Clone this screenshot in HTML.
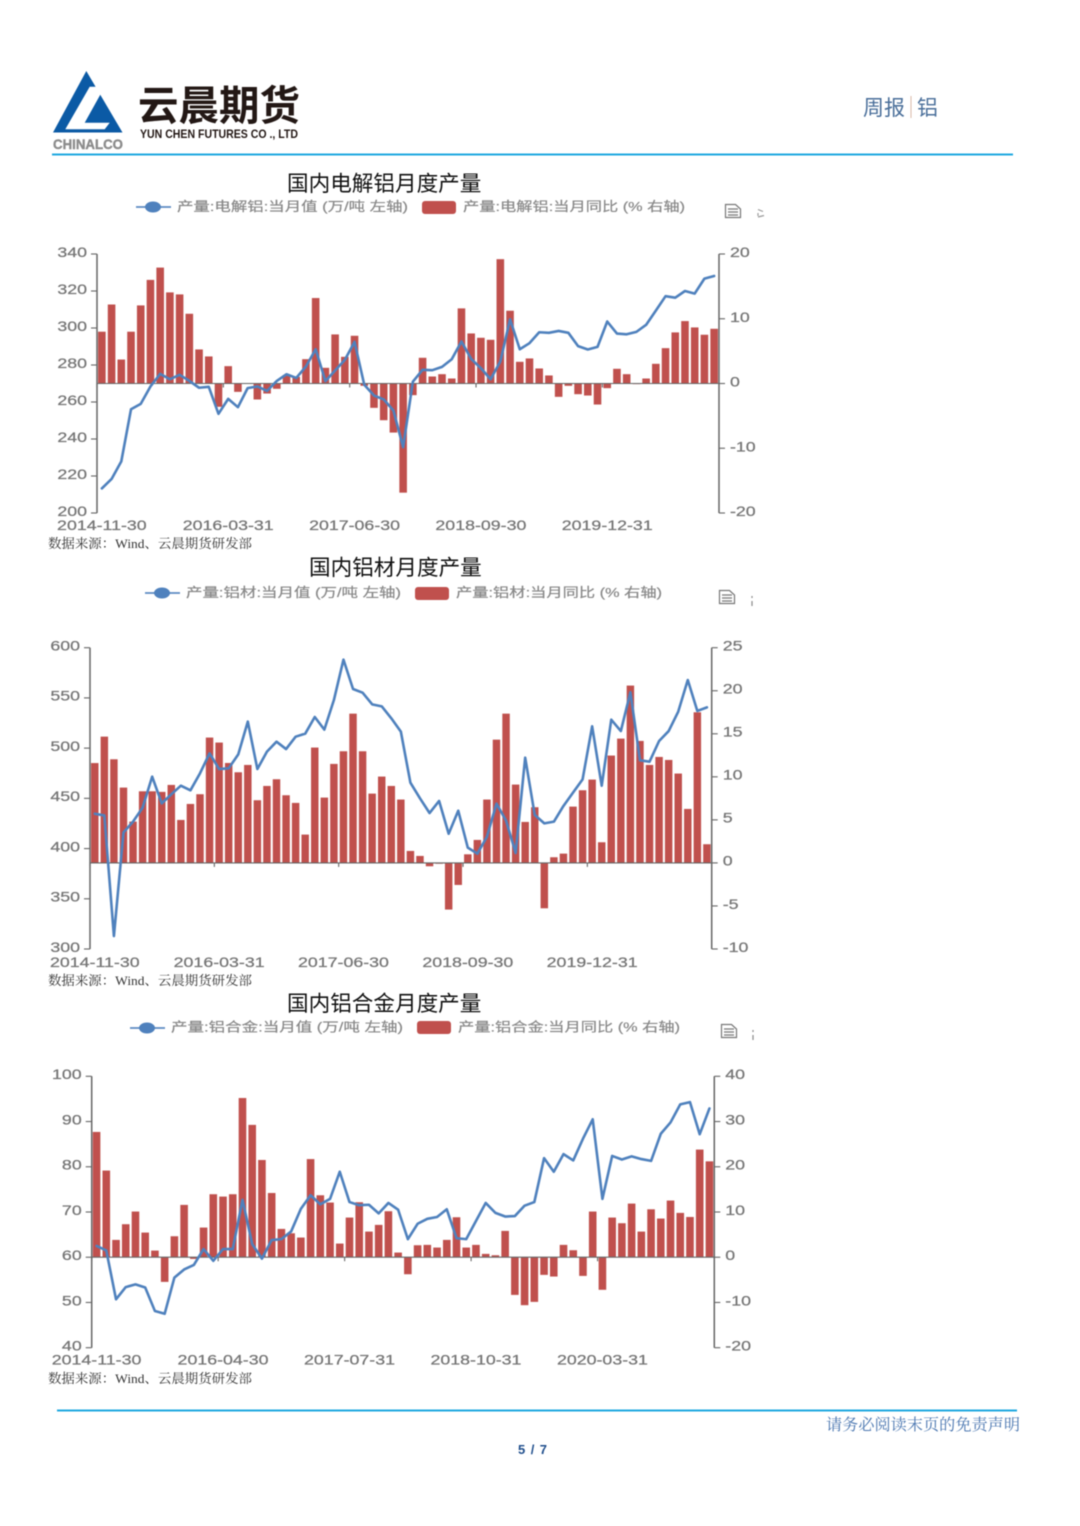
<!DOCTYPE html>
<html lang="zh">
<head>
<meta charset="utf-8">
<title>云晨期货周报 铝</title>
<style>
html,body{margin:0;padding:0;background:#fff;}
body{width:1080px;height:1526px;overflow:hidden;}
svg{display:block;}
.cjk{font-family:"Liberation Sans","Noto Sans CJK SC",sans-serif;}
.serif{font-family:"Liberation Serif","Noto Serif CJK SC",serif;}
.soft{filter:blur(.4px);}
</style>
</head>
<body>
<svg id="page" xmlns="http://www.w3.org/2000/svg" width="1080" height="1526" viewBox="0 0 1080 1526">
  <g class="soft">
    <g>
      <polygon points="86.3,71 122.5,132.5 53,132.5" fill="#0b5aa5"/>
      <polygon points="89.7,86.7 104.7,86.7 84.7,122.7 109.7,122.7 104.7,129.3 65.3,129.3" fill="#fff"/>
      <text x="53" y="149" class="cjk" font-size="13.5" font-weight="700" fill="#8c8c8c" stroke="#8c8c8c" stroke-width=".4" textLength="70" lengthAdjust="spacingAndGlyphs">CHINALCO</text>
    </g>
    <text x="138" y="120" class="cjk" font-size="41" font-weight="700" fill="#231815" textLength="162" lengthAdjust="spacingAndGlyphs">云晨期货</text>
    <text x="140" y="138" class="cjk" font-size="11.5" font-weight="700" fill="#231815" textLength="158" lengthAdjust="spacingAndGlyphs">YUN CHEN FUTURES CO ., LTD</text>
    <text x="863" y="115" class="cjk" font-size="21" fill="#4a6f9a">周报</text>
    <rect x="910.5" y="96" width="1" height="22" fill="#d9b9a8"/>
    <text x="917" y="115" class="cjk" font-size="21" fill="#4a6f9a">铝</text>
    <rect x="52" y="153.5" width="961" height="2" fill="#1fa8e0"/>
  </g>

  <g class="soft">
    <text x="287" y="191" class="cjk" font-size="21.6" fill="#111">国内电解铝月度产量</text>
    <g>
      <rect x="136" y="206.2" width="35" height="1.6" fill="#4f81bd"/>
      <ellipse cx="153" cy="207" rx="8" ry="5.5" fill="#4f81bd"/>
      <text x="177" y="211" class="cjk" font-size="13" fill="#888" stroke="#888" stroke-width=".2" textLength="231" lengthAdjust="spacingAndGlyphs">产量:电解铝:当月值 (万/吨 左轴)</text>
    </g>
    <g>
      <rect x="422" y="201" width="34" height="13" rx="3" fill="#c0504d"/>
      <text x="463" y="211" class="cjk" font-size="13" fill="#888" stroke="#888" stroke-width=".2" textLength="222" lengthAdjust="spacingAndGlyphs">产量:电解铝:当月同比 (% 右轴)</text>
    </g>
    <g fill="none" stroke="#777" stroke-width="1.2">
      <path d="M725.5 204.5h10l5 4.5v8.5h-15z M728 209h10 M728 212h10 M728 215h10"/>
    </g>
    <path d="M758 209.5l5 2 M758 217l6-1.5 M758 213v3" fill="none" stroke="#999" stroke-width="1.2"/>
  </g>
  <text x="48" y="548" class="serif soft" font-size="13" fill="#333" textLength="204" lengthAdjust="spacingAndGlyphs">数据来源：Wind、云晨期货研发部</text>

  <g class="soft">
    <text x="309" y="575" class="cjk" font-size="21.6" fill="#111">国内铝材月度产量</text>
    <g>
      <rect x="145" y="592.2" width="35" height="1.6" fill="#4f81bd"/>
      <ellipse cx="162" cy="593" rx="8" ry="5.5" fill="#4f81bd"/>
      <text x="186" y="597" class="cjk" font-size="13" fill="#888" stroke="#888" stroke-width=".2" textLength="215" lengthAdjust="spacingAndGlyphs">产量:铝材:当月值 (万/吨 左轴)</text>
    </g>
    <g>
      <rect x="415" y="587" width="34" height="13" rx="3" fill="#c0504d"/>
      <text x="456" y="597" class="cjk" font-size="13" fill="#888" stroke="#888" stroke-width=".2" textLength="206" lengthAdjust="spacingAndGlyphs">产量:铝材:当月同比 (% 右轴)</text>
    </g>
    <g fill="none" stroke="#777" stroke-width="1.2">
      <path d="M719.5 590.5h10l5 4.5v8.5h-15z M722 595h10 M722 598h10 M722 601h10"/>
    </g>
    <path d="M752 596v2 M752 601v5" fill="none" stroke="#888" stroke-width="1.2"/>
  </g>
  <text x="48" y="985" class="serif soft" font-size="13" fill="#333" textLength="204" lengthAdjust="spacingAndGlyphs">数据来源：Wind、云晨期货研发部</text>

  <g class="soft">
    <text x="287" y="1011" class="cjk" font-size="21.6" fill="#111">国内铝合金月度产量</text>
    <g>
      <rect x="130" y="1027.2" width="35" height="1.6" fill="#4f81bd"/>
      <ellipse cx="147" cy="1028" rx="8" ry="5.5" fill="#4f81bd"/>
      <text x="171" y="1031.5" class="cjk" font-size="13" fill="#888" stroke="#888" stroke-width=".2" textLength="232" lengthAdjust="spacingAndGlyphs">产量:铝合金:当月值 (万/吨 左轴)</text>
    </g>
    <g>
      <rect x="417" y="1021" width="34" height="13" rx="3" fill="#c0504d"/>
      <text x="458" y="1031.5" class="cjk" font-size="13" fill="#888" stroke="#888" stroke-width=".2" textLength="222" lengthAdjust="spacingAndGlyphs">产量:铝合金:当月同比 (% 右轴)</text>
    </g>
    <g fill="none" stroke="#777" stroke-width="1.2">
      <path d="M721.5 1024.5h10l5 4.5v8.5h-15z M724 1029h10 M724 1032h10 M724 1035h10"/>
    </g>
    <path d="M753 1030v2 M753 1035v5" fill="none" stroke="#888" stroke-width="1.2"/>
  </g>
  <text x="48" y="1383" class="serif soft" font-size="13" fill="#333" textLength="204" lengthAdjust="spacingAndGlyphs">数据来源：Wind、云晨期货研发部</text>

  <g class="soft">
    <rect x="57" y="1409.5" width="960" height="2" fill="#1fa8e0"/>
    <text x="826" y="1430" class="serif" font-size="16" fill="#4a76b0" textLength="194" lengthAdjust="spacingAndGlyphs">请务必阅读末页的免责声明</text>
    <text x="518" y="1454" font-family="Liberation Sans, sans-serif" font-size="13" font-weight="700" fill="#1f4e8c" textLength="29">5 / 7</text>
  </g>
</svg>
<script>
var aluminiumTickLabels = ['2014-11-30','2016-03-31','2017-06-30','2018-09-30','2019-12-31'];
var aluminiumLeftTicks = [200,220,240,260,280,300,320,340];
var aluminiumRightTicks = [-20,-10,0,10,20];
var aluminiumMonthly = [213.3,218.4,227.9,256.1,259,268.4,275.2,272.3,274.7,271.4,267.7,268.2,253.6,261.7,257.2,267.5,268.4,266,271.4,275,273,279.2,288.5,271.3,277,282.8,292.5,269.3,263.5,261.4,255.4,235.6,271,277.4,277.2,279,283.1,292.7,283.3,278.3,272.3,281.9,304.7,288.5,291.8,297.7,297.4,298.4,297.4,290.2,288.4,289.8,303.5,297,296.6,297.9,301.7,309.4,317.2,316.4,320,318.6,326.7,328.1];
var aluminiumYoy = [8,12.2,3.7,8,12.06,16,17.9,14.07,13.76,10.77,5.26,4.18,-3.6,2.68,-1.29,-0.05,-2.47,-1.55,-0.82,1.29,1.03,3.76,13.2,2.42,7.58,4.12,7.37,-0.36,-3.76,-5.67,-7.58,-16.86,-1.8,3.97,1.08,1.44,0.77,11.6,7.73,7.06,6.75,19.2,11.24,3.35,3.87,2.32,1.24,-2.06,-0.36,-1.65,-1.86,-3.25,-0.72,2.27,1.44,-0.1,0.77,3.04,5.46,7.89,9.64,8.66,7.53,8.45];

var profileTickLabels = ['2014-11-30','2016-03-31','2017-06-30','2018-09-30','2019-12-31'];
var profileLeftTicks = [300,350,400,450,500,550,600];
var profileRightTicks = [-10,-5,0,5,10,15,20,25];
var profileMonthly = [434.7,433,312.9,416,426.8,440.7,471.6,445,454,462.6,458,474.9,494.8,479.2,479.9,493.8,526.4,479.2,496.5,506.4,499.1,511.4,514.4,531,518.4,547.9,588.1,558.9,555.2,543.6,541.6,529.7,516.4,465.6,450,435.4,447.4,414.8,437.7,400.9,394.9,411.8,444.7,427.8,395.6,490.5,433.4,425.1,426.8,442.4,455.7,468.9,521.7,462.6,528.3,517,555.6,487.9,486.5,507.1,517,536.3,567.8,537,540.6];
var profileYoy = [11.6,14.67,12.04,8.75,4.8,8.32,8.32,8.25,9.06,4.99,6.85,7.98,14.56,13.98,11.61,10.53,11.38,7.28,8.94,9.72,7.86,6.97,3.29,13.4,7.59,11.5,12.97,17.34,12.97,8.05,10.03,8.94,7.36,1.39,0.81,-0.39,-0.1,-5.42,-2.56,1,2.67,7.36,14.32,17.34,9.1,4.76,6.47,-5.27,0.66,1.08,6.54,8.44,9.68,2.4,12.47,14.44,20.6,14.17,11.38,12.31,11.96,10.38,6.27,17.5,2.17];

var alloyTickLabels = ['2014-11-30','2016-04-30','2017-07-31','2018-10-31','2020-03-31'];
var alloyLeftTicks = [40,50,60,70,80,90,100];
var alloyRightTicks = [-20,-10,0,10,20,30,40];
var alloyMonthly = [62.5,61.5,50.7,53.4,54,53.3,48.1,47.5,55.5,57.3,58.3,61.8,59.2,61.8,61.8,72.7,62.9,59.7,63.8,64,65.7,70.7,73.7,71.7,72.9,78.9,72.2,71.5,71.6,69.7,72,70.5,64,67.4,68.5,68.9,70.6,64.2,64,68,72,69.8,69,69.1,71.4,72.2,81.9,78.9,82.8,81.4,86.2,90.5,72.9,82.4,81.6,82.3,81.7,81.3,87.3,89.8,93.8,94.3,87.2,92.9];
var alloyYoy = [27.7,19.16,3.83,7.3,10.1,5.45,1.47,-5.45,4.64,11.57,-0.37,6.56,13.93,13.41,13.93,35.2,29.26,21.5,14.2,6.26,5.3,4.35,21.7,13.7,12.09,3.02,8.77,12.16,5.67,7.15,10.17,1.03,-3.76,2.65,2.73,2.14,3.83,8.84,2.14,2.73,0.74,0.44,5.82,-8.33,-10.6,-9.87,-3.9,-4.27,2.73,1.55,-4.13,10.1,-7.2,8.77,7.52,11.86,5.67,10.6,8.55,12.53,9.8,8.9,23.8,21.2];

var SVG_NS = 'http://www.w3.org/2000/svg';
var AXIS_COLOR = '#666';
var LABEL_COLOR = '#757575';
var BAR_COLOR = '#c0504d';
var LINE_COLOR = '#4f81bd';

function createSvg(tag, attrs, parent) {
  var node = document.createElementNS(SVG_NS, tag);
  for (var key in attrs) node.setAttribute(key, attrs[key]);
  parent.appendChild(node);
  return node;
}

function addLabel(parent, text, x, y, anchor) {
  var label = createSvg('text', {
    transform: 'translate(' + x + ',' + y + ') scale(1.27,1)',
    'text-anchor': anchor,
    'font-family': 'Liberation Sans, sans-serif',
    'font-size': 14,
    fill: LABEL_COLOR,
    stroke: LABEL_COLOR,
    'stroke-width': 0.25
  }, parent);
  label.textContent = text;
  return label;
}

function drawChart(name, box, tickLabels, leftTicks, rightTicks, monthly, yoy) {
  var root = document.getElementById('page');
  var chart = createSvg('g', {'class': 'soft'}, root);
  
  

  var count = yoy.length;
  var band = (box.right - box.left) / count;
  function xCenter(i) { return box.left + (i + 0.5) * band; }
  function yLeft(v) {
    var lo = leftTicks[0], hi = leftTicks[leftTicks.length - 1];
    return box.bottom - (v - lo) / (hi - lo) * (box.bottom - box.top);
  }
  function yRight(v) {
    var lo = rightTicks[0], hi = rightTicks[rightTicks.length - 1];
    return box.bottom - (v - lo) / (hi - lo) * (box.bottom - box.top);
  }
  var zeroY = yRight(0);

  yoy.forEach(function (value, i) {
    var y = yRight(value);
    var bar = createSvg('rect', {
      x: xCenter(i) - band * 0.39,
      y: Math.min(y, zeroY),
      width: band * 0.78,
      height: Math.abs(y - zeroY),
      fill: BAR_COLOR
    }, chart);
    
    
  });

  var leftAxis = createSvg('path', {
    d: 'M' + box.left + ' ' + box.top + 'V' + box.bottom,
    stroke: AXIS_COLOR, 'stroke-width': 1.5, fill: 'none'
  }, chart);
  
  

  var rightAxis = createSvg('path', {
    d: 'M' + box.right + ' ' + box.top + 'V' + box.bottom,
    stroke: AXIS_COLOR, 'stroke-width': 1.5, fill: 'none'
  }, chart);
  
  

  var xAxis = createSvg('path', {
    d: 'M' + box.left + ' ' + zeroY + 'H' + box.right,
    stroke: AXIS_COLOR, 'stroke-width': 1.1, fill: 'none'
  }, chart);
  
  

  leftTicks.forEach(function (value, k) {
    var y = yLeft(value);
    var tick = createSvg('path', {
      d: 'M' + (box.left - 6) + ' ' + y + 'H' + box.left,
      stroke: AXIS_COLOR, 'stroke-width': 1.1, fill: 'none'
    }, chart);
    
    
    var label = addLabel(chart, String(value), box.left - 10, y + box.labelDy, 'end');
    
    
  });

  rightTicks.forEach(function (value) {
    var y = yRight(value);
    var tick = createSvg('path', {
      d: 'M' + box.right + ' ' + y + 'H' + (box.right + 6),
      stroke: AXIS_COLOR, 'stroke-width': 1.1, fill: 'none'
    }, chart);
    
    
    var label = addLabel(chart, String(value), box.right + 11, y + box.labelDy, 'start');
    
    
  });

  tickLabels.forEach(function (text, k) {
    var index = k * box.tickStep;
    var tx = box.left + index * band;
    var tick = createSvg('path', {
      d: 'M' + tx + ' ' + zeroY + 'v4',
      stroke: AXIS_COLOR, 'stroke-width': 1.1, fill: 'none'
    }, chart);
    
    
    var label = addLabel(chart, text, xCenter(index), box.bottom + box.labelGap, 'middle');
    
    
  });

  var points = monthly.map(function (value, i) {
    return xCenter(i).toFixed(2) + ',' + yLeft(value).toFixed(2);
  }).join(' ');
  var line = createSvg('polyline', {
    points: points, fill: 'none', stroke: LINE_COLOR,
    'stroke-width': 2.6, 'stroke-linejoin': 'round', 'stroke-linecap': 'round'
  }, chart);
  
  
}

drawChart('aluminium', {left: 97, right: 719, top: 254, bottom: 513, tickStep: 13, labelGap: 17, labelDy: 3.2}, aluminiumTickLabels, aluminiumLeftTicks, aluminiumRightTicks, aluminiumMonthly, aluminiumYoy);
drawChart('profile', {left: 90, right: 711.7, top: 647.7, bottom: 949, tickStep: 13, labelGap: 18, labelDy: 2.8}, profileTickLabels, profileLeftTicks, profileRightTicks, profileMonthly, profileYoy);
drawChart('alloy', {left: 91.7, right: 714.3, top: 1076.3, bottom: 1347.7, tickStep: 13, labelGap: 17, labelDy: 2.8}, alloyTickLabels, alloyLeftTicks, alloyRightTicks, alloyMonthly, alloyYoy);
</script>
</body>
</html>
